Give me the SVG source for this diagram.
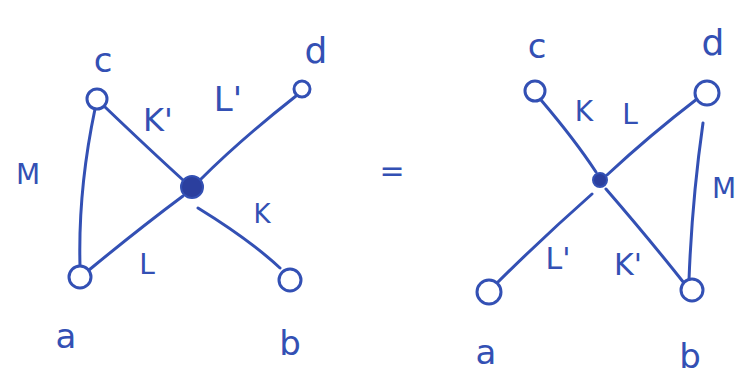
<svg xmlns="http://www.w3.org/2000/svg" width="740" height="379" viewBox="0 0 740 379">
<style>
.e{fill:none;stroke:#3350b4;stroke-width:3;stroke-linecap:round}
.n{fill:#fff;stroke:#3350b4;stroke-width:3}
.f{fill:#2b3f9e;stroke:#3350b4;stroke-width:2}
.t{font-family:"DejaVu Sans",sans-serif;fill:#3350b4;text-anchor:middle;dominant-baseline:central}
</style>
<rect width="740" height="379" fill="#fff"/>
<g id="connectors">
<path class="e" d="M95 109 Q78 190 80 266"/>
<path class="e" d="M105 107 Q150 150 183 180"/>
<path class="e" d="M296 96 Q240 140 200 180"/>
<path class="e" d="M89 270 Q140 228 183 196"/>
<path class="e" d="M198 208 Q250 240 280 268"/>
<path class="e" d="M541 100 Q575 140 596 172"/>
<path class="e" d="M697 99 Q650 135 607 175"/>
<path class="e" d="M592 194 Q540 240 493 287"/>
<path class="e" d="M606 189 Q650 240 684 283"/>
<path class="e" d="M703 123 Q692 200 689 280"/>
</g>
<g id="left-c"><circle class="n" cx="97" cy="99" r="10"/><text class="t" x="103" y="60" font-size="34">c</text></g>
<g id="left-d"><circle class="n" cx="302" cy="89" r="8"/><text class="t" x="316" y="50" font-size="36">d</text></g>
<g id="left-center"><circle class="f" cx="192" cy="187" r="11"/></g>
<g id="left-a"><circle class="n" cx="80" cy="277" r="11"/><text class="t" x="66" y="336" font-size="34">a</text></g>
<g id="left-b"><circle class="n" cx="290" cy="280" r="11"/><text class="t" x="290" y="343" font-size="34">b</text></g>
<g id="left-labels">
<text class="t" x="28" y="174" font-size="28">M</text>
<text class="t" x="158" y="120" font-size="32">K'</text>
<text class="t" x="228" y="99" font-size="34">L'</text>
<text class="t" x="262" y="214" font-size="26">K</text>
<text class="t" x="147" y="264" font-size="28">L</text>
</g>
<text class="t" x="392" y="170" font-size="30">=</text>
<g id="right-c"><circle class="n" cx="535" cy="91" r="10"/><text class="t" x="537" y="46" font-size="34">c</text></g>
<g id="right-d"><circle class="n" cx="707" cy="93" r="12"/><text class="t" x="713" y="42" font-size="36">d</text></g>
<g id="right-center"><circle class="f" cx="600" cy="180" r="7"/></g>
<g id="right-a"><circle class="n" cx="489" cy="292" r="12"/><text class="t" x="486" y="352" font-size="34">a</text></g>
<g id="right-b"><circle class="n" cx="692" cy="290" r="11"/><text class="t" x="690" y="356" font-size="34">b</text></g>
<g id="right-labels">
<text class="t" x="584" y="111" font-size="28">K</text>
<text class="t" x="630" y="114" font-size="28">L</text>
<text class="t" x="724" y="188" font-size="28">M</text>
<text class="t" x="558" y="258" font-size="30">L'</text>
<text class="t" x="628" y="264" font-size="30">K'</text>
</g>
</svg>
